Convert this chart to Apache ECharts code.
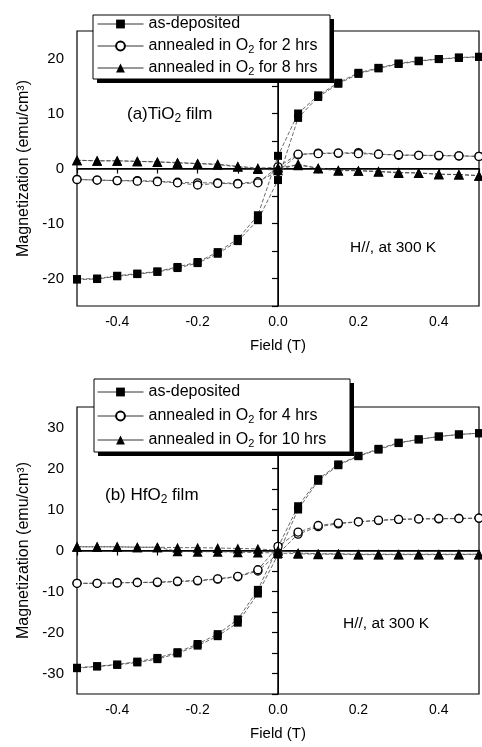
<!DOCTYPE html>
<html><head><meta charset="utf-8">
<script src="https://cdn.jsdelivr.net/npm/echarts@6/dist/echarts.min.js"></script>
<style>html,body{margin:0;padding:0;background:#fff}#c{width:482px;height:747px}</style>
</head><body><div id="c"></div>
<script>
// ---- data ----
const fieldT = [-0.5,-0.45,-0.4,-0.35,-0.3,-0.25,-0.2,-0.15,-0.1,-0.05,0,0.05,0.1,0.15,0.2,0.25,0.3,0.35,0.4,0.45,0.5];

// (a) TiO2 film : ascending branch (-0.5 -> 0.5) and descending branch
const tiAsDepUp    = [-20.2,-20.1,-19.6,-19.2,-18.8,-18.1,-17.2,-15.5,-13.2,-9.4,-2.1,9.2,13.0,15.4,17.2,18.2,19.0,19.5,19.9,20.1,20.3];
const tiAsDepDown  = [-20.1,-20.0,-19.5,-19.1,-18.7,-17.9,-17.0,-15.2,-12.8,-8.5,2.3,10.0,13.3,15.6,17.4,18.3,19.1,19.6,19.9,20.2,20.3];
const ti2hUp       = [-2.0,-2.1,-2.2,-2.2,-2.3,-2.5,-2.6,-2.6,-2.7,-2.4,-0.5,2.5,2.8,2.8,2.9,2.6,2.4,2.4,2.3,2.3,2.2];
const ti2hDown     = [-2.0,-2.1,-2.2,-2.3,-2.4,-2.6,-3.0,-2.7,-2.8,-2.6,0.3,2.6,2.7,2.8,2.7,2.6,2.5,2.4,2.4,2.3,2.2];
const ti8hUp       = [1.5,1.4,1.4,1.3,1.2,1.0,0.9,0.7,0.3,-0.1,-0.3,0.8,0.0,-0.4,-0.4,-0.6,-0.8,-0.8,-1.1,-1.1,-1.3];
const ti8hDown     = [1.5,1.4,1.4,1.3,1.2,1.1,0.9,0.8,0.4,0.1,0.2,0.6,0.1,-0.3,-0.4,-0.5,-0.7,-0.8,-1.0,-1.1,-1.3];

// (b) HfO2 film
const hfAsDepUp    = [-28.7,-28.3,-27.9,-27.3,-26.5,-25.1,-23.2,-20.9,-17.6,-10.5,-1.0,10.0,17.0,20.8,23.0,24.6,26.2,27.1,27.8,28.3,28.6];
const hfAsDepDown  = [-28.6,-28.2,-27.8,-27.1,-26.2,-24.8,-22.8,-20.4,-16.8,-9.6,0.8,10.8,17.4,21.0,23.1,24.8,26.3,27.1,27.8,28.3,28.6];
const hf4hUp       = [-8.0,-8.0,-7.9,-7.8,-7.8,-7.6,-7.4,-7.0,-6.4,-5.0,-0.8,4.0,5.8,6.5,7.0,7.3,7.6,7.7,7.7,7.8,7.9];
const hf4hDown     = [-8.0,-8.0,-7.9,-7.8,-7.7,-7.5,-7.3,-6.9,-6.3,-4.7,1.0,4.5,6.1,6.7,7.0,7.4,7.6,7.7,7.8,7.8,7.9];
const hf10hUp      = [0.9,0.9,0.9,0.8,0.8,0.7,0.7,0.6,0.5,0.4,0.0,-0.6,-0.8,-0.8,-0.9,-0.9,-0.9,-0.9,-0.9,-0.9,-0.9];
const hf10hDown    = [0.9,0.9,0.9,0.8,0.8,-0.2,-0.3,-0.3,-0.4,-0.5,-0.6,-0.8,-0.9,-0.9,-1.0,-1.0,-1.0,-1.0,-1.0,-1.0,-1.0];

const namesA = ['as-deposited','annealed in O2 for 2 hrs','annealed in O2 for 8 hrs'];
const namesB = ['as-deposited','annealed in O2 for 4 hrs','annealed in O2 for 10 hrs'];
const xTickLabels  = ['-0.4','-0.2','0.0','0.2','0.4'];
const yTickLabelsA = ['-20','-10','0','10','20'];
const yTickLabelsB = ['-30','-20','-10','0','10','20','30'];

// ---- chart ----
const FONT = "'Liberation Sans', Arial, sans-serif";
function loop(up, down){
  const d = fieldT.map((x,i)=>[x, up[i]]);
  for (let i = fieldT.length-1; i >= 0; i--) d.push([fieldT[i], down[i]]);
  return d;
}
const lineSt = {color:'#444', width:0.8, type:[4,2]};
const styles = [
  {symbol:'rect', symbolSize:8, itemStyle:{color:'#000'}},
  {symbol:'circle', symbolSize:8, itemStyle:{color:'#fff', borderColor:'#000', borderWidth:1.3}},
  {symbol:'triangle', symbolSize:10, itemStyle:{color:'#000'}}
];
function ser(name, data, gi, k, zeroLines){
  const s = Object.assign({type:'line', name, data, xAxisIndex:gi, yAxisIndex:gi,
    lineStyle:lineSt, showSymbol:true, animation:false, z: 3+k}, styles[k]);
  if (zeroLines) s.markLine = {silent:true, symbol:'none', label:{show:false}, animation:false,
    lineStyle:{color:'#000', width:1, type:'solid'}, data:[{xAxis:0},{yAxis:0}]};
  return s;
}
function xAx(gi){
  return {type:'value', gridIndex:gi, min:-0.5, max:0.5, interval:0.1,
    name:'Field (T)', nameLocation:'middle', nameGap:32,
    nameTextStyle:{fontFamily:FONT, fontSize:15, color:'#000'},
    axisLine:{lineStyle:{color:'#000', width:1.5}},
    axisTick:{length:5, lineStyle:{color:'#000', width:1.2}},
    axisLabel:{margin:9, fontFamily:FONT, fontSize:14, color:'#000',
      formatter:v=>{const s=(Math.round(v*10)/10).toFixed(1).replace('-0.0','0.0'); return xTickLabels.includes(s)?s:'';}},
    splitLine:{show:false}};
}
function yAx(gi, mn, mx, labels){
  return {type:'value', gridIndex:gi, min:mn, max:mx, interval:5,
    name:'Magnetization (emu/cm³)', nameLocation:'middle', nameGap:41,
    nameTextStyle:{fontFamily:FONT, fontSize:16, color:'#000'},
    axisLine:{lineStyle:{color:'#000', width:1.5}},
    axisTick:{length:6, lineStyle:{color:'#000', width:1.2}},
    axisLabel:{margin:13, fontFamily:FONT, fontSize:15, color:'#000',
      formatter:v=>{const s=String(Math.round(v)); return labels.includes(s)?s:'';}},
    splitLine:{show:false}};
}
const rich = {
  n:{fontFamily:FONT, fontSize:16, lineHeight:18, color:'#000'},
  s:{fontFamily:FONT, fontSize:11, lineHeight:8, verticalAlign:'bottom', color:'#000'}
};
function fmtName(name){
  const p = name.split('O2');
  if (p.length < 2) return '{n|'+name+'}';
  return '{n|'+p[0]+'O}{s|2}{n|'+p[1]+'}';
}
function legend(name, center){
  return {data:[name], left:97, top:center-7, orient:'vertical', itemWidth:46, itemHeight:11,
    padding:0, z:200, selectedMode:false, formatter:fmtName,
    textStyle:{fontFamily:FONT, fontSize:16, color:'#000', rich:rich},
    lineStyle:{type:'solid', color:'#333', width:1}};
}
function label(x, y, tpl, size){
  return {type:'text', x:x, y:y, z:50, style:{text:tpl, fill:'#000', verticalAlign:'middle',
    fontFamily:FONT, fontSize:size,
    rich:{n:{fontFamily:FONT, fontSize:size, lineHeight:22, color:'#000'},
          s:{fontFamily:FONT, fontSize:size-5, lineHeight:10, verticalAlign:'bottom', color:'#000'}}}};
}

const option = {
  backgroundColor:'#fff',
  animation:false,
  grid:[
    {left:77, top:31, width:408, height:275, show:true, borderColor:'#000', borderWidth:1.2, backgroundColor:'transparent'},
    {left:77, top:407, width:408, height:287, show:true, borderColor:'#000', borderWidth:1.2, backgroundColor:'transparent'}
  ],
  xAxis:[xAx(0), xAx(1)],
  yAxis:[yAx(0,-25,25,yTickLabelsA), yAx(1,-35,35,yTickLabelsB)],
  legend:[
    legend(namesA[0], 23), legend(namesA[1], 45), legend(namesA[2], 67),
    legend(namesB[0], 391), legend(namesB[1], 415), legend(namesB[2], 439)
  ],
  graphic:[
    {type:'rect', z:100, shape:{x:97, y:19, width:237, height:64}, style:{fill:'#000'}},
    {type:'rect', z:101, shape:{x:93, y:15, width:237, height:64}, style:{fill:'#fff', stroke:'#000', lineWidth:1}},
    {type:'rect', z:100, shape:{x:98, y:383, width:256, height:73}, style:{fill:'#000'}},
    {type:'rect', z:101, shape:{x:94, y:379, width:256, height:73}, style:{fill:'#fff', stroke:'#000', lineWidth:1}},
    label(127, 114, '{n|(a)TiO}{s|2}{n| film}', 17),
    label(350, 248, '{n|H//, at 300 K}', 15.5),
    label(105, 495, '{n|(b) HfO}{s|2}{n| film}', 17),
    label(343, 624, '{n|H//, at 300 K}', 15.5)
  ],
  series:[
    ser(namesA[0], loop(tiAsDepUp, tiAsDepDown), 0, 0, true),
    ser(namesA[1], loop(ti2hUp, ti2hDown), 0, 1, false),
    ser(namesA[2], loop(ti8hUp, ti8hDown), 0, 2, false),
    ser(namesB[0], loop(hfAsDepUp, hfAsDepDown), 1, 0, true),
    ser(namesB[1], loop(hf4hUp, hf4hDown), 1, 1, false),
    ser(namesB[2], loop(hf10hUp, hf10hDown), 1, 2, false)
  ]
};
const chart = echarts.init(document.getElementById('c'), null, {renderer:'canvas'});
chart.setOption(option);
</script>
</body></html>
